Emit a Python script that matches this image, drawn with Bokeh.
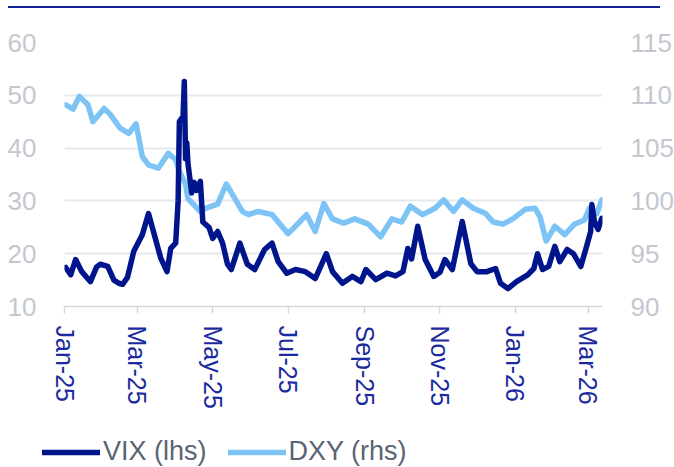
import pandas as pd
from bokeh.plotting import figure
from bokeh.models import (Range1d, LinearAxis, DatetimeTickFormatter, MonthsTicker,
                          FixedTicker, Legend, LegendItem, Div)
from bokeh.layouts import column, row
from bokeh.embed import file_html
from bokeh.resources import INLINE

vix_dates = ["2025-01-02", "2025-01-06", "2025-01-10", "2025-01-15", "2025-01-22", "2025-01-27",
             "2025-01-30", "2025-02-05", "2025-02-10", "2025-02-14", "2025-02-17", "2025-02-21",
             "2025-02-26", "2025-03-05", "2025-03-10", "2025-03-14", "2025-03-20", "2025-03-25",
             "2025-03-28", "2025-04-01", "2025-04-03", "2025-04-04", "2025-04-07", "2025-04-08",
             "2025-04-09", "2025-04-10", "2025-04-11", "2025-04-14", "2025-04-16", "2025-04-18",
             "2025-04-21", "2025-04-23", "2025-04-28", "2025-05-01", "2025-05-05", "2025-05-09",
             "2025-05-13", "2025-05-16", "2025-05-23", "2025-05-29", "2025-06-04", "2025-06-12",
             "2025-06-18", "2025-06-23", "2025-06-30", "2025-07-07", "2025-07-15", "2025-07-23",
             "2025-08-01", "2025-08-06", "2025-08-14", "2025-08-22", "2025-08-29", "2025-09-02",
             "2025-09-10", "2025-09-19", "2025-09-26", "2025-10-02", "2025-10-06", "2025-10-09",
             "2025-10-14", "2025-10-20", "2025-10-27", "2025-11-01", "2025-11-05", "2025-11-11",
             "2025-11-19", "2025-11-26", "2025-12-01", "2025-12-09", "2025-12-16", "2025-12-20",
             "2025-12-26", "2026-01-02", "2026-01-11", "2026-01-16", "2026-01-19", "2026-01-23",
             "2026-01-28", "2026-02-02", "2026-02-06", "2026-02-12", "2026-02-17", "2026-02-23",
             "2026-02-27", "2026-03-03", "2026-03-04", "2026-03-06", "2026-03-09", "2026-03-12"]
vix_values = [17.4, 16.0, 18.9, 16.6, 14.7, 17.5,
              18.0, 17.6, 15.0, 14.4, 14.2, 15.5,
              20.4, 23.6, 27.6, 24.2, 19.1, 16.6,
              21.0, 22.0, 30.0, 45.0, 46.0, 52.6,
              38.0, 41.0, 37.0, 31.5, 33.5, 32.0,
              33.7, 26.0, 25.0, 22.9, 24.2, 22.0,
              18.0, 17.0, 22.0, 18.0, 17.0, 20.8,
              22.0, 18.5, 16.3, 17.0, 16.6, 15.3,
              20.0, 16.6, 14.4, 15.7, 14.7, 17.0,
              15.1, 16.3, 15.8, 16.6, 21.0, 19.0,
              25.2, 18.9, 15.7, 16.5, 18.9, 17.0,
              26.1, 18.1, 16.6, 16.6, 17.2, 14.4,
              13.4, 14.7, 16.0, 17.2, 20.0, 17.0,
              17.6, 21.4, 18.5, 20.8, 20.0, 17.6,
              20.8, 24.2, 29.3, 26.1, 24.6, 26.7]

dxy_dates = ["2025-01-02", "2025-01-08", "2025-01-13", "2025-01-20", "2025-01-24", "2025-02-02",
             "2025-02-07", "2025-02-15", "2025-02-22", "2025-02-28", "2025-03-05", "2025-03-10",
             "2025-03-18", "2025-03-26", "2025-04-01", "2025-04-04", "2025-04-09", "2025-04-11",
             "2025-04-21", "2025-04-25", "2025-05-05", "2025-05-12", "2025-05-18", "2025-05-25",
             "2025-05-30", "2025-06-07", "2025-06-18", "2025-07-01", "2025-07-07", "2025-07-16",
             "2025-07-23", "2025-07-30", "2025-08-06", "2025-08-15", "2025-08-24", "2025-09-04",
             "2025-09-14", "2025-09-23", "2025-10-01", "2025-10-08", "2025-10-18", "2025-10-28",
             "2025-11-04", "2025-11-12", "2025-11-19", "2025-11-28", "2025-12-08", "2025-12-14",
             "2025-12-22", "2025-12-30", "2026-01-09", "2026-01-17", "2026-01-21", "2026-01-26",
             "2026-02-02", "2026-02-10", "2026-02-18", "2026-02-26", "2026-03-02", "2026-03-08",
             "2026-03-12"]
dxy_values = [109.1, 108.7, 109.9, 109.1, 107.5, 108.75,
              108.2, 106.9, 106.4, 107.3, 104.2, 103.4,
              103.1, 104.5, 103.9, 102.8, 101.6, 100.2,
              99.0, 99.3, 99.7, 101.6, 100.4, 99.0,
              98.7, 99.0, 98.7, 96.9, 97.6, 98.7,
              97.1, 99.75, 98.3, 97.9, 98.3, 97.8,
              96.6, 98.3, 98.0, 99.5, 98.7, 99.3,
              100.1, 99.0, 100.1, 99.3, 98.8, 98.0,
              97.8, 98.3, 99.2, 99.3, 98.5, 96.2,
              97.6, 96.8, 97.8, 98.2, 99.3, 98.8,
              100.1]

left_ticks = [10, 20, 30, 40, 50, 60]
right_ticks = [90, 95, 100, 105, 110, 115]
series_labels = ["VIX (lhs)", "DXY (rhs)"]

NAVY = "#00148C"
LIGHT = "#7DC3F5"
FONT = "Liberation Sans"

vx = pd.to_datetime(vix_dates)
dx = pd.to_datetime(dxy_dates)

p = figure(x_axis_type="datetime", frame_width=538, frame_height=264,
           output_backend="svg", toolbar_location=None,
           min_border_left=64, min_border_right=70, min_border_top=34, min_border_bottom=131,
           x_range=Range1d(pd.Timestamp("2025-01-01"), pd.Timestamp("2026-03-12 14:00")),
           y_range=Range1d(10, 60))
p.extra_y_ranges = {"dxy": Range1d(90, 115)}
p.outline_line_color = None

r_dxy = p.line(dx, dxy_values, y_range_name="dxy", line_color=LIGHT, line_width=5.5,
               line_join="round", line_cap="round")
r_vix = p.line(vx, vix_values, line_color=NAVY, line_width=5.5,
               line_join="round", line_cap="round")

yl = p.yaxis[0]
yl.ticker = FixedTicker(ticks=left_ticks)
ry = LinearAxis(y_range_name="dxy", ticker=FixedTicker(ticks=right_ticks))
p.add_layout(ry, "right")
for ax in (yl, ry):
    ax.axis_line_color = None
    ax.major_tick_line_color = None
    ax.minor_tick_line_color = None
    ax.major_label_standoff = 22
    ax.major_label_text_font = FONT
    ax.major_label_text_font_size = "26px"
    ax.major_label_text_color = "#C3C8D0"

xa = p.xaxis[0]
xa.ticker = MonthsTicker(months=[0, 2, 4, 6, 8, 10])
xa.formatter = DatetimeTickFormatter(months="%b-%y", days="%b-%y")
xa.major_label_orientation = "vertical"
xa.axis_line_color = "#D5D9DF"
xa.axis_line_width = 1.5
xa.major_tick_line_color = "#D5D9DF"
xa.major_tick_line_width = 1.5
xa.major_tick_out = 7
xa.major_tick_in = 0
xa.minor_tick_line_color = None
xa.major_label_standoff = 12
xa.major_label_text_font = FONT
xa.major_label_text_font_size = "25px"
xa.major_label_text_color = "#1B2A9E"

p.xgrid.grid_line_color = None
p.ygrid.grid_line_color = "#E5E8EC"
p.ygrid.grid_line_width = 2
p.ygrid.ticker = FixedTicker(ticks=left_ticks)

# legend strip (separate figure so nothing gets clipped); its view range excludes the data
lf = figure(width=672, height=30, output_backend="svg", toolbar_location=None,
            x_axis_location=None, y_axis_location=None, min_border=0,
            x_range=Range1d(0, 1), y_range=Range1d(0, 1))
lf.outline_line_color = None
lf.grid.visible = False
d_vix = lf.line(vx, vix_values, line_color=NAVY, line_width=5.5, line_cap="round")
d_dxy = lf.line(dx, dxy_values, line_color=LIGHT, line_width=5.5, line_cap="round")
legend = Legend(items=[LegendItem(label=series_labels[0], renderers=[d_vix]),
                       LegendItem(label=series_labels[1], renderers=[d_dxy])],
                orientation="horizontal", location=(42, 0),
                glyph_width=58, glyph_height=30, label_height=30, label_standoff=3,
                spacing=21, padding=0, margin=0, border_line_color=None,
                background_fill_alpha=0,
                label_text_font=FONT, label_text_font_size="27px",
                label_text_color="#5A6475")
lf.add_layout(legend)

top = Div(text="", width=652, height=2, margin=(6, 0, 0, 8),
          styles={"background-color": "#10219A"})

layout = column(top, p, row(lf), spacing=0)
open("out.html", "w").write(file_html(layout, INLINE))
